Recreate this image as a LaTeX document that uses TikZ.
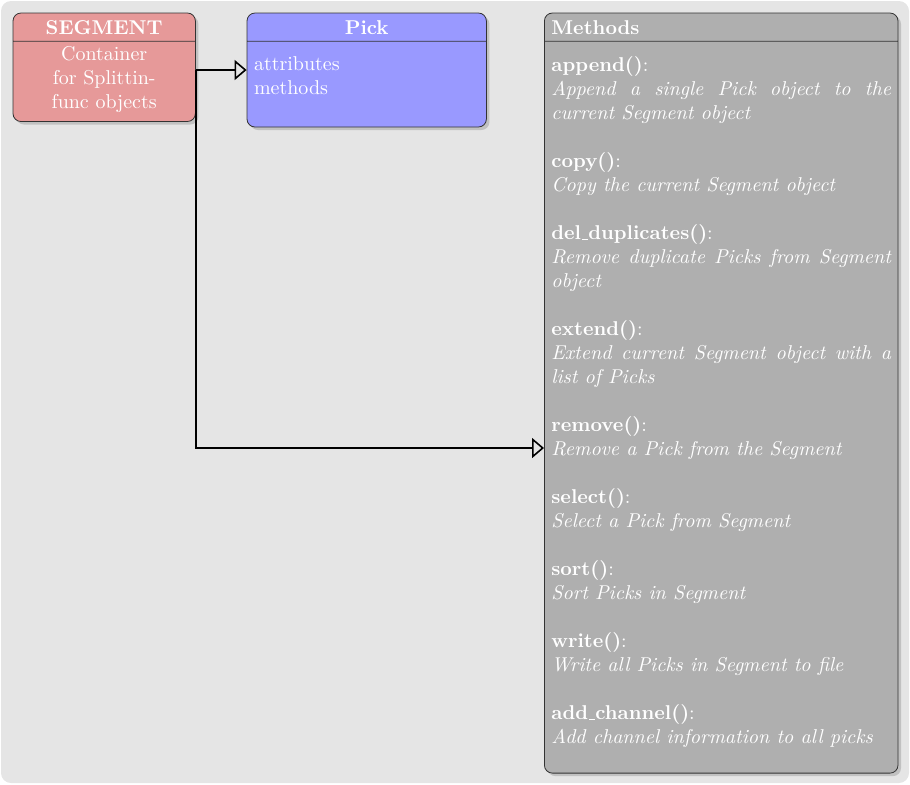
\documentclass[tikz,border=0pt]{standalone}
\usepackage{tikz}
\usetikzlibrary{shapes,shapes.multipart,shadows,arrows.meta,calc}
\definecolor{segcol}{RGB}{230,153,153}
\definecolor{pickcol}{RGB}{153,153,255}
\definecolor{methcol}{RGB}{175,175,175}
\tikzstyle{classbox}=[rectangle split, rectangle split parts=2, draw=black!80, rounded corners=4pt, text=white, inner xsep=3.5pt, inner ysep=1pt, anchor=north west, drop shadow={shadow xshift=1.5pt, shadow yshift=-1.5pt, opacity=0.35}]
\tikzstyle{inherit}=[thick, -{Triangle[open,length=6pt,width=10pt]}]
\newcommand{\hstrut}{\rule[-2.25pt]{0pt}{11.75pt}}
\newcommand{\us}{\kern.06em\vbox{\hrule width.3em}}
\newcommand{\methentry}[2]{\textbf{#1}:\par\textit{#2}\par}

\begin{document}
\begin{tikzpicture}[x=1pt,y=1pt]
	\useasboundingbox (0,0) rectangle (455,-392);
	\fill[gray!20, rounded corners=5pt] (0.5,-0.5) rectangle (454.5,-391.5);
	\node[classbox, fill=segcol, text width=84.2pt, align=center] (segment) at (6.3,-6.3) {\hstrut\textbf{SEGMENT}\nodepart{second}\rule{0pt}{8.2pt}Container\\for Splittin-\\func objects\rule[-5.5pt]{0pt}{5.5pt}};
	\node[classbox, fill=pickcol, text width=112.7pt, align=left] (pick) at (123.3,-6.3) {\makebox[\linewidth]{\hstrut\textbf{Pick}}\nodepart{second}\rule{0pt}{13.5pt}attributes\\methods\rule[-14.95pt]{0pt}{14.95pt}};
	\node[classbox, fill=methcol, text width=169.8pt, align=justify] (methods) at (272,-6.3) {\hstrut\textbf{Methods}\nodepart{second}\hyphenpenalty=10000\rule{0pt}{14pt}%
		\methentry{append()}{Append a single Pick object to the current Segment object}\vspace{12pt}
		\methentry{copy()}{Copy the current Segment object}\vspace{12pt}
		\methentry{del\us duplicates()}{Remove duplicate Picks from Segment object}\vspace{12pt}
		\methentry{extend()}{Extend current Segment object with a list of Picks}\vspace{12pt}
		\methentry{remove()}{Remove a Pick from the Segment}\vspace{12pt}
		\methentry{select()}{Select a Pick from Segment}\vspace{12pt}
		\methentry{sort()}{Sort Picks in Segment}\vspace{12pt}
		\methentry{write()}{Write all Picks in Segment to file}\vspace{12pt}
		\textbf{add\us channel()}:\par\textit{Add channel information to all picks}\rule[-13.5pt]{0pt}{13.5pt}};
	\coordinate (rmv) at ([yshift=-217.7pt]methods.north west);
	\draw[inherit] (segment.east |- pick.west) -- (pick.west);
	\draw[inherit] (segment.east |- pick.west) |- (rmv);
\end{tikzpicture}
\end{document}
